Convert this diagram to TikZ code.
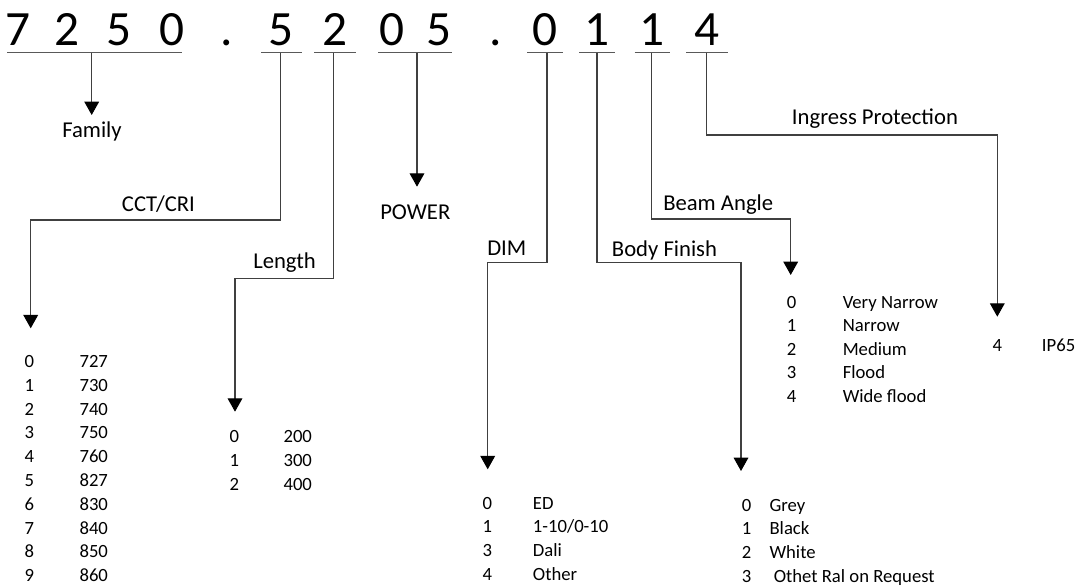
\documentclass[tikz,border=0pt]{standalone}
\usepackage{fontspec}
\setmainfont{Carlito}
\usetikzlibrary{arrows.meta}
\tikzset{
  code/.style={inner sep=0pt,anchor=base,font=\fontsize{37}{44}\selectfont},
  field/.style={inner sep=0pt,anchor=base west,font=\fontsize{17}{20}\selectfont},
  entry/.style={inner sep=0pt,anchor=base,font=\fontsize{14}{17}\selectfont},
  value/.style={entry,anchor=base west},
  uline/.style={draw=black!65,line width=0.8pt},
  link/.style={draw=black!75,line width=0.8pt,-{Triangle[width=11pt,length=10pt,color=black]}},
}
\begin{document}
\begin{tikzpicture}[x=0.75pt,y=-0.75pt]
  \useasboundingbox (0,0) rectangle (1079,586);
  % code digits
  \foreach \c/\x/\n in {7/18.5/d1,2/67/d2,5/119/d3,0/172/d4,./227/p1,5/281.5/d5,2/335/d6,0/392/d7,5/439/d8,./496/p2,0/545/d9,1/597/d10,1/652/d11,4/707/d12}
    \node[code] (\n) at (\x,45.5) {\c};
  % underlines and taps
  \foreach \a/\b/\t/\n in {7/182/91.7/tfam,261/302/280.7/tcct,314/356/333.4/tlen,378/452/417/tpow,527/563/547/tdim,579/615/597/tbody,634.5/670/651.7/tbeam,686/728/706.4/tip}{
    \draw[uline] (\a,52.5) -- (\b,52.5);
    \coordinate (\n) at (\t,52.5);
  }
  % field names
  \node[field] (family) at (62,137.3) {Family};
  \node[field] (cct) at (121.7,211.7) {CCT/CRI};
  \node[field] (length) at (253,268.3) {Length};
  \node[field] (power) at (380,219) {POWER};
  \node[field] (dim) at (487,255) {DIM};
  \node[field] (body) at (611.7,256.7) {Body Finish};
  \node[field] (beam) at (663,210.7) {Beam Angle};
  \node[field] (ingress) at (791.7,124.3) {Ingress Protection};
  % arrow ends
  \coordinate (efam) at (91.7,115);
  \coordinate (ecct) at (30.7,328.3);
  \coordinate (elen) at (235,411.7);
  \coordinate (epow) at (417,186.7);
  \coordinate (edim) at (487.7,469.3);
  \coordinate (ebody) at (741,471);
  \coordinate (ebeam) at (790.7,275);
  \coordinate (eip) at (997.3,316.7);
  % connectors
  \draw[link] (tfam) -- (efam);
  \draw[link] (tcct) -- (tcct |- 0,220) -| (ecct);
  \draw[link] (tlen) -- (tlen |- 0,278.3) -| (elen);
  \draw[link] (tpow) -- (epow);
  \draw[link] (tdim) -- (tdim |- 0,262.3) -| (edim);
  \draw[link] (tbody) -- (tbody |- 0,262.3) -| (ebody);
  \draw[link] (tbeam) -- (tbeam |- 0,219) -| (ebeam);
  \draw[link] (tip) -- (tip |- 0,135) -| (eip);
  % option lists
  \foreach \d/\v [count=\i from 0] in {0/727,1/730,2/740,3/750,4/760,5/827,6/830,7/840,8/850,9/860}{
    \node[entry] (cctk\i) at (29.3,{367.5+23.8*\i}) {\d};
    \node[value] (cctv\i) at (79.3,{367.5+23.8*\i}) {\v};
  }
  \foreach \d/\v [count=\i from 0] in {0/200,1/300,2/400}{
    \node[entry] (lenk\i) at (234.3,{442+24*\i}) {\d};
    \node[value] (lenv\i) at (283.3,{442+24*\i}) {\v};
  }
  \foreach \d/\v [count=\i from 0] in {0/ED,1/{1-10/0-10},3/Dali,4/Other}{
    \node[entry] (dimk\i) at (487.3,{509+23.9*\i}) {\d};
    \node[value] (dimv\i) at (532.7,{509+23.9*\i}) {\v};
  }
  \foreach \d/\v [count=\i from 0] in {0/Grey,1/Black,2/White,3/{\ Othet Ral on Request}}{
    \node[entry] (bodyk\i) at (746.7,{511+23.8*\i}) {\d};
    \node[value] (bodyv\i) at (769.3,{511+23.8*\i}) {\v};
  }
  \foreach \d/\v [count=\i from 0] in {0/Very Narrow,1/Narrow,2/Medium,3/Flood,4/Wide flood}{
    \node[entry] (beamk\i) at (791.5,{308.5+23.4*\i}) {\d};
    \node[value] (beamv\i) at (842.5,{308.5+23.4*\i}) {\v};
  }
  \node[entry] (ipk0) at (997.3,351) {4};
  \node[value] (ipv0) at (1041.7,351) {IP65};
\end{tikzpicture}
\end{document}
